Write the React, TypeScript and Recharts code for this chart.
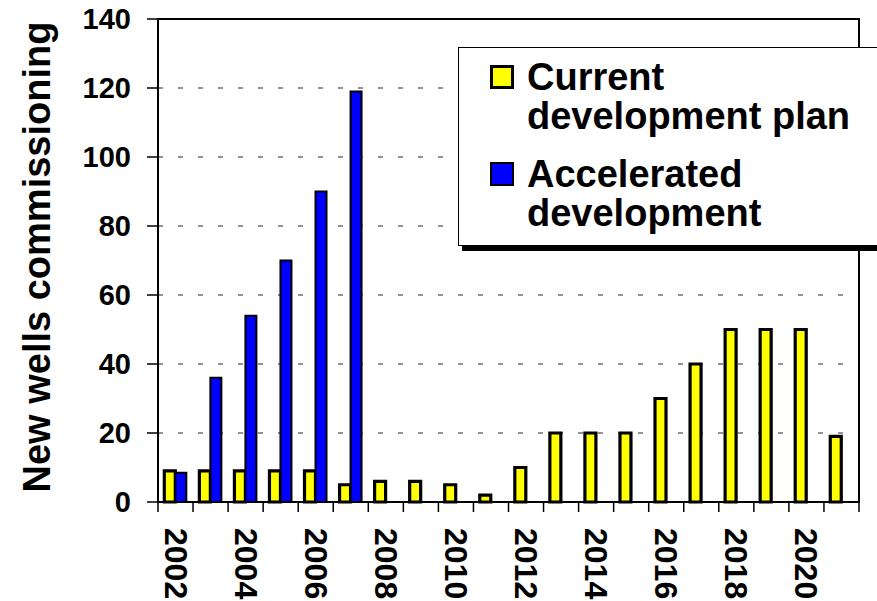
import React from 'react';
import { BarChart, Bar, XAxis, YAxis, CartesianGrid, Legend, ReferenceArea } from 'recharts';

const years = ['2002', '2003', '2004', '2005', '2006', '2007', '2008', '2009', '2010', '2011', '2012', '2013', '2014', '2015', '2016', '2017', '2018', '2019', '2020', '2021'];
const currentPlan = [9, 9, 9, 9, 9, 5, 6, 6, 5, 2, 10, 20, 20, 20, 30, 40, 50, 50, 50, 19];
const accelerated = [8.5, 36, 54, 70, 90, 119, null, null, null, null, null, null, null, null, null, null, null, null, null, null];
const yTicks = [0, 20, 40, 60, 80, 100, 120, 140];
const seriesNames = ['Current development plan', 'Accelerated development'];
const yTitle = 'New wells commissioning';

const data = years.map((year, i) => ({ year, current: currentPlan[i], accelerated: accelerated[i] }));

const FONT = '"Liberation Sans", Arial, sans-serif';
const CHART_W = 877;
const CHART_H = 601;
const Y_AXIS_W = 158;
const RIGHT_M = 18;
const BAND = (CHART_W - Y_AXIS_W - RIGHT_M) / years.length;

const XTick = (props: any) => {
  const { x, y, payload, index } = props;
  const half = (payload && payload.offset) || BAND / 2;
  const ty = y + 26;
  return (
    <g>
      <line x1={x - half} x2={x - half} y1={y} y2={y + 10} stroke="#000" strokeWidth={1.5} />
      {index === years.length - 1 && (
        <line x1={x + half} x2={x + half} y1={y} y2={y + 10} stroke="#000" strokeWidth={1.5} />
      )}
      {index % 2 === 0 && (
        <text
          x={x}
          y={ty}
          transform={`rotate(90 ${x} ${ty})`}
          textAnchor="start"
          dominantBaseline="central"
          fontFamily={FONT}
          fontWeight="bold"
          fontSize={32}
          fill="#000"
        >
          {payload.value}
        </text>
      )}
    </g>
  );
};

const YTitle = () => (
  <text
    x={50}
    y={257}
    transform="rotate(-90 50 257)"
    textAnchor="middle"
    fontFamily={FONT}
    fontWeight="bold"
    fontSize={38}
    fill="#000"
  >
    {yTitle}
  </text>
);

const LegendBox = (props: any) => {
  const payload: any[] = props.payload || [];
  const order = ['current', 'accelerated'];
  const items = order
    .map((k) => payload.find((p) => p.dataKey === k))
    .filter(Boolean);
  return (
    <div style={{ position: 'relative', width: 419, height: 206 }}>
      <div style={{ position: 'absolute', left: 4, top: 198, width: 415, height: 6, background: '#000' }} />
      <div
        style={{
          position: 'absolute',
          left: 0,
          top: 0,
          width: 419,
          height: 199,
          boxSizing: 'border-box',
          borderTop: '1.5px solid #000',
          borderLeft: '1.5px solid #000',
          borderBottom: '1.5px solid #000',
          background: '#fff',
          paddingLeft: 31,
          paddingTop: 10,
        }}
      >
        {items.map((it: any, i: number) => (
          <div key={it.dataKey} style={{ display: 'flex', alignItems: 'flex-start', marginTop: i === 0 ? 0 : 19 }}>
            <div
              style={{
                width: 24,
                height: 24,
                boxSizing: 'border-box',
                marginTop: 7,
                background: it.color,
                border: it.dataKey === 'current' ? '3px solid #000' : '2px solid #000',
                flex: 'none',
              }}
            />
            <div
              style={{
                marginLeft: 13,
                width: 340,
                fontFamily: FONT,
                fontWeight: 'bold',
                fontSize: 38,
                lineHeight: '39px',
                color: '#000',
                textAlign: 'left',
              }}
            >
              {it.value}
            </div>
          </div>
        ))}
      </div>
    </div>
  );
};

export default function App() {
  return (
    <div style={{ position: 'absolute', left: 0, top: 0, width: CHART_W, height: CHART_H, overflow: 'hidden', background: '#fff' }}>
      <BarChart
        width={CHART_W}
        height={CHART_H}
        data={data}
        margin={{ top: 19, right: RIGHT_M, bottom: 0, left: 0 }}
        barCategoryGap="18%"
        barGap={0}
      >
        <CartesianGrid vertical={false} stroke="#707070" strokeWidth={1.5} strokeDasharray="5 15" />
        <XAxis
          dataKey="year"
          interval={0}
          height={99}
          tickLine={false}
          tickSize={0}
          tickMargin={0}
          axisLine={{ stroke: '#000', strokeWidth: 2 }}
          tick={<XTick />}
        />
        <YAxis
          width={Y_AXIS_W}
          domain={[0, 140]}
          ticks={yTicks}
          interval={0}
          tickSize={11}
          tickMargin={16}
          axisLine={{ stroke: '#000', strokeWidth: 2 }}
          tickLine={{ stroke: '#000', strokeWidth: 1.5 }}
          tick={{ fill: '#000', fontFamily: FONT, fontWeight: 'bold', fontSize: 29 }}
          label={<YTitle />}
        />
        <ReferenceArea y1={0} y2={140} fill="none" stroke="#000" strokeWidth={2} ifOverflow="visible" />
        <Bar dataKey="current" name={seriesNames[0]} fill="#FFFF00" stroke="#000" strokeWidth={3.2} isAnimationActive={false} />
        <Bar dataKey="accelerated" name={seriesNames[1]} fill="#0000FF" stroke="#000" strokeWidth={2} isAnimationActive={false} />
        <Legend
          layout="horizontal"
          verticalAlign="middle"
          align="center"
          content={<LegendBox />}
          wrapperStyle={{ left: 458, top: 47, width: 419, height: 206 }}
        />
      </BarChart>
    </div>
  );
}
